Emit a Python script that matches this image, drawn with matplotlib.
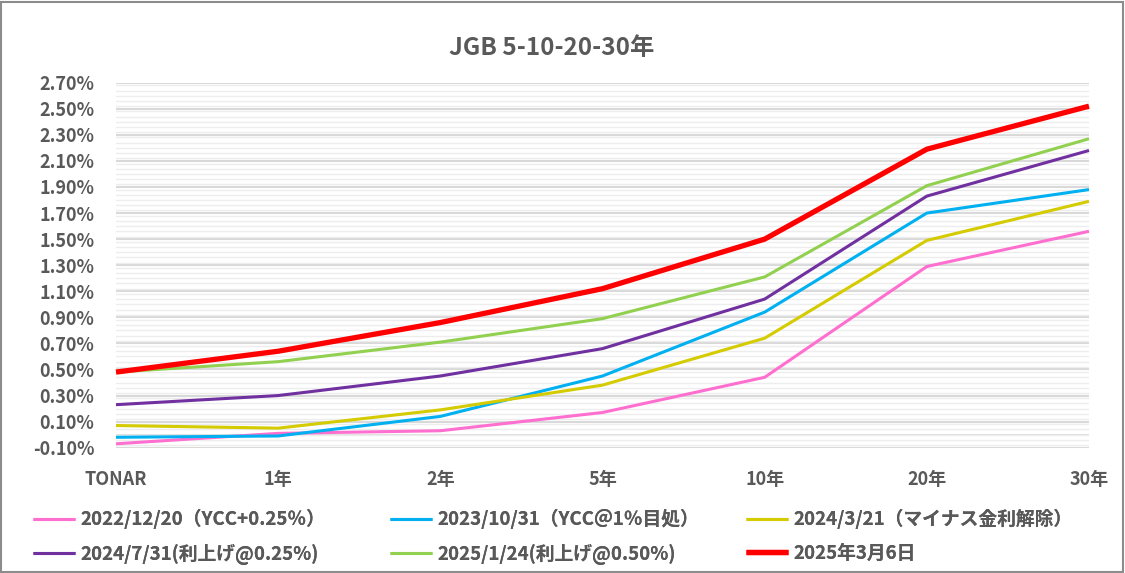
import matplotlib
matplotlib.use("Agg")
import matplotlib.pyplot as plt
from matplotlib.ticker import MultipleLocator, FuncFormatter
from matplotlib.patches import Rectangle

plt.rcParams['font.family'] = ['Noto Sans CJK JP', 'DejaVu Sans']

categories = ["TONAR", "1年", "2年", "5年", "10年", "20年", "30年"]

labels = [
    "2022/12/20（YCC+0.25％）",
    "2023/10/31（YCC＠1％目処）",
    "2024/3/21（マイナス金利解除）",
    "2024/7/31(利上げ@0.25%)",
    "2025/1/24(利上げ@0.50%)",
    "2025年3月6日",
]
y_2022_12_20 = [-0.07, 0.01, 0.03, 0.17, 0.44, 1.29, 1.56]
y_2023_10_31 = [-0.02, -0.01, 0.14, 0.45, 0.94, 1.70, 1.88]
y_2024_03_21 = [0.07, 0.05, 0.19, 0.38, 0.74, 1.49, 1.79]
y_2024_07_31 = [0.23, 0.30, 0.45, 0.66, 1.04, 1.83, 2.18]
y_2025_01_24 = [0.48, 0.56, 0.71, 0.89, 1.21, 1.91, 2.27]
y_2025_03_06 = [0.48, 0.64, 0.86, 1.12, 1.50, 2.19, 2.52]

series = [y_2022_12_20, y_2023_10_31, y_2024_03_21, y_2024_07_31, y_2025_01_24, y_2025_03_06]
colors = ["#FF6FCF", "#00B0F0", "#D4CB00", "#7030A0", "#92D050", "#FF0000"]
widths = [2.2, 2.2, 2.2, 2.2, 2.2, 3.8]

W, H = 1125, 573
fig = plt.figure(figsize=(W / 100, H / 100), dpi=100)
ax = fig.add_axes([116 / W, 1 - 447.7 / H, (1089 - 116) / W, (447.7 - 82.7) / H])

x = list(range(len(categories)))
handles = []
for ys, c, lw, lab in zip(series, colors, widths, labels):
    h, = ax.plot(x, ys, color=c, lw=lw, label=lab, clip_on=False, zorder=3,
                 solid_joinstyle='round', solid_capstyle='butt')
    handles.append(h)

ax.set_xlim(0, len(categories) - 1)
ax.set_ylim(-0.10, 2.70)
ax.yaxis.set_minor_locator(MultipleLocator(0.04))
ax.set_yticks([-0.1 + 0.2 * i for i in range(15)])
ax.yaxis.set_major_formatter(FuncFormatter(lambda v, p: f"{v:.2f}%"))
ax.grid(axis='y', which='major', color='#D9D9D9', lw=1.5, zorder=1)
ax.grid(axis='y', which='minor', color='#EDEDED', lw=1.0, zorder=0)
ax.axhline(0, color='#D9D9D9', lw=1.2, zorder=1)
ax.set_xticks(x)
ax.set_xticklabels(categories)
ax.tick_params(axis='x', length=0, pad=16, labelsize=13, labelcolor='#595959')
ax.tick_params(axis='y', which='both', length=0, pad=15.5, labelsize=13, labelcolor='#595959')
for t in ax.get_xticklabels() + ax.get_yticklabels():
    t.set_fontweight('bold')
for s in ax.spines.values():
    s.set_visible(False)

fig.text(552 / W, 1 - 48 / H, "JGB 5-10-20-30年", ha='center', va='center',
         fontsize=17.5, fontweight='bold', color='#595959')

col_x = [33, 390, 746]
for ci in range(3):
    hs = [handles[ci], handles[ci + 3]]
    leg = fig.legend(handles=hs, loc='upper left',
                     bbox_to_anchor=(col_x[ci] / W, 1 - 509 / H),
                     frameon=False, ncol=1, handlelength=2.25, handletextpad=0.27,
                     labelspacing=0.78, borderaxespad=0, borderpad=0,
                     prop={'size': 13.5, 'weight': 'bold'}, labelcolor='#595959')
    fig.add_artist(leg)

fig.add_artist(Rectangle((1 / W, 1 / H), (W - 3) / W, (H - 3) / H, transform=fig.transFigure,
                         fill=False, edgecolor='#8C8C8C', lw=1.5))

fig.savefig("out.png", dpi=100)
